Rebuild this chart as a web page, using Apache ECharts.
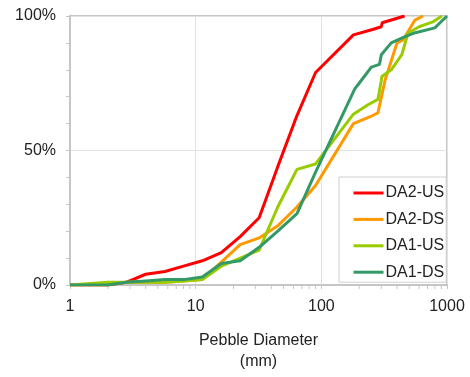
<!DOCTYPE html>
<html><head><meta charset="utf-8">
<script src="https://cdn.jsdelivr.net/npm/echarts@6/dist/echarts.min.js"></script>
<style>html,body{margin:0;padding:0;background:#fff}#c{width:470px;height:377px}</style>
</head><body><div id="c"></div>
<script>
const seriesNames = ['DA2-US', 'DA2-DS', 'DA1-US', 'DA1-DS'];
const da2usX = [1, 2, 2.8, 4, 5.7, 8, 11.3, 16, 22.6, 32, 45, 64, 90, 180, 256, 300, 305, 460];
const da2usY = [0, 0, 1, 4, 5, 7, 9, 12, 18, 25, 44, 63, 79, 93, 95, 96, 97.5, 100];
const da2dsX = [1, 2, 2.8, 4, 5.7, 8, 11.3, 16, 22.6, 32, 45, 64, 90, 180, 256, 282, 321, 400, 445, 556, 645];
const da2dsY = [0, 0, 1, 1, 1, 1.5, 2, 8.5, 15, 17.5, 22, 29, 37, 60, 63, 64, 76, 90, 91, 98.5, 100];
const da1usX = [1, 2, 4, 5.7, 8, 11.3, 16, 22.6, 32, 45, 64, 90, 180, 235, 282, 300, 303, 360, 437, 450, 490, 600, 770, 910];
const da1usY = [0, 1, 1, 1, 1.5, 2, 7, 10, 13, 29, 43, 45, 63.5, 67, 69, 76, 77.5, 80, 85.6, 86, 93.7, 96, 97.8, 100];
const da1dsX = [1, 2, 2.8, 4, 5.7, 8, 11.3, 16, 22.6, 32, 45, 64, 90, 185, 200, 250, 290, 300, 305, 360, 445, 550, 800, 1000];
const da1dsY = [0, 0, 1, 1.5, 2, 2, 3, 8, 9, 14, 20, 26.5, 42, 73, 75, 81, 82, 85.6, 86, 90, 92, 93.7, 95.6, 100];
const minorTickValues = [2,3,4,5,6,7,8,9,20,30,40,50,60,70,80,90,200,300,400,500,600,700,800,900];
const colors = ['#ff0000', '#ff9900', '#99cc00', '#339966'];

function pairs(xs, ys){ return xs.map((x,i)=>[x, ys[i]]); }
const allData = [pairs(da2usX,da2usY), pairs(da2dsX,da2dsY), pairs(da1usX,da1usY), pairs(da1dsX,da1dsY)];

const chart = echarts.init(document.getElementById('c'), null, {renderer:'canvas'});
const font = 'Liberation Sans, Arial, Helvetica, sans-serif';
const gridCol = '#c6c6c6';
const series = seriesNames.map((n,i)=>({
  name: n, type: 'line', data: allData[i], symbol: 'none', showSymbol: false,
  lineStyle: {width: 3, color: colors[i]}, itemStyle: {color: colors[i], opacity: 0}, z: 3 + i
}));
series.push({
  type: 'custom', silent: true, clip: false, z: 2,
  data: minorTickValues.map(v=>[v,0]),
  renderItem: function(params, api){
    const p = api.coord([api.value(0), api.value(1)]);
    return {type:'line', shape:{x1:p[0], y1:p[1], x2:p[0], y2:p[1]+4}, style:{stroke:gridCol, lineWidth:1}};
  }
});
chart.setOption({
  animation: false,
  textStyle: {fontFamily: font},
  grid: {left: 70, right: 23, top: 16, bottom: 90, show: true, borderColor: gridCol, borderWidth: 2, backgroundColor: 'transparent'},
  legend: {
    data: seriesNames, orient: 'vertical', left: 339, top: 177,
    padding: [8, 2, 2, 13], itemGap: 10.4, itemWidth: 30, itemHeight: 18,
    borderColor: '#d0d0d0', borderWidth: 1, backgroundColor: '#fff',
    itemStyle: {opacity: 0},
    lineStyle: {width: 3},
    textStyle: {fontSize: 16, color: '#222', fontFamily: font, padding: [0,0,0,-3]}
  },
  xAxis: {
    type: 'log', logBase: 10, min: 1, max: 1000,
    name: 'Pebble Diameter\n(mm)', nameLocation: 'middle', nameGap: 45,
    nameTextStyle: {fontSize: 16, color: '#222', lineHeight: 21, fontFamily: font},
    axisLine: {show: true, lineStyle: {color: gridCol, width: 2}},
    axisTick: {show: true, length: 4, lineStyle: {color: gridCol}},
    axisLabel: {fontSize: 16, color: '#222', margin: 14, formatter: v => String(Math.round(v))},
    splitLine: {show: true, lineStyle: {color: '#e2e2e2', width: 1}}
  },
  yAxis: {
    type: 'value', min: 0, max: 100, interval: 50,
    axisLine: {show: true, lineStyle: {color: gridCol, width: 2}},
    axisTick: {show: true, length: 4, lineStyle: {color: gridCol}},
    minorTick: {show: true, splitNumber: 5, length: 4, lineStyle: {color: gridCol}},
    axisLabel: {fontSize: 16, color: '#222', margin: 14, formatter: '{value}%'},
    splitLine: {show: true, lineStyle: {color: '#e2e2e2', width: 1}}
  },
  series: series
});
</script></body></html>
